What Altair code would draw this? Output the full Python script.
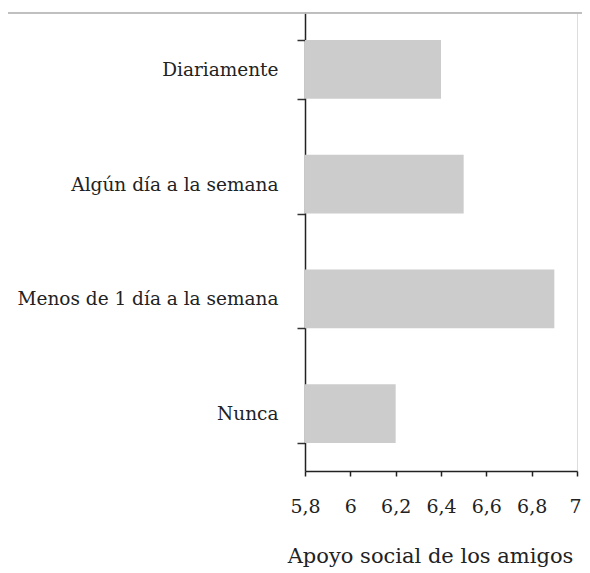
import altair as alt
import pandas as pd

categories = ["Diariamente", "Algún día a  la semana", "Menos de 1 día a la semana", "Nunca"]
values = [6.4, 6.5, 6.9, 6.2]
baseline = [5.8, 5.8, 5.8, 5.8]
x_ticks = [5.8, 6.0, 6.2, 6.4, 6.6, 6.8, 7.0]
x_title = "Apoyo social de los amigos"

df = pd.DataFrame({"cat": categories, "v": values, "base": baseline})

FONT = "DejaVu Serif"

bars = alt.Chart(df).mark_bar(color="#cccccc").encode(
    y=alt.Y(
        "cat:N",
        sort=categories,
        scale=alt.Scale(paddingInner=0.486, paddingOuter=0.243),
        axis=alt.Axis(
            title=None,
            tickBand="extent",
            tickSize=8,
            tickWidth=1.5,
            tickColor="#333333",
            domainColor="#222222",
            domainWidth=1.5,
            labelFont=FONT,
            labelFontSize=18.5,
            labelColor="#222222",
            labelPadding=19,
            labelLimit=400,
        ),
    ),
    x=alt.X(
        "v:Q",
        scale=alt.Scale(domain=[5.8, 7.0], zero=False, nice=False),
        axis=alt.Axis(
            values=x_ticks,
            labelExpr="replace(format(datum.value, '.1~f'), '.', ',')",
            labelFlush=False,
            labelOverlap=False,
            labelOffset={"condition": {"test": "datum.value >= 7", "value": -2}, "value": 0},
            title=x_title,
            titleFont=FONT,
            titleFontSize=21,
            titleFontWeight="normal",
            titleColor="#222222",
            titlePadding=29,
            titleX=125,
            grid=False,
            tickSize=5,
            tickWidth=1.5,
            tickColor="#222222",
            domainColor="#222222",
            domainWidth=1.5,
            labelFont=FONT,
            labelFontSize=19,
            labelColor="#222222",
            labelPadding=21,
        ),
    ),
    x2="base",
)

top_line = alt.Chart(df).mark_rule(color="#bbbbbb", strokeWidth=1, clip=False).encode(
    x=alt.value(-297), x2=alt.value(277), y=alt.value(1)
)

chart = alt.layer(top_line, bars).properties(
    width=272,
    height=459,
    autosize=alt.AutoSizeParams(type="none"),
    padding={"left": 297, "top": 4, "right": 5, "bottom": 96},
).configure_view(stroke=None).configure(background="white")

chart.save("out.html", embed_options={"renderer": "svg", "actions": False})
